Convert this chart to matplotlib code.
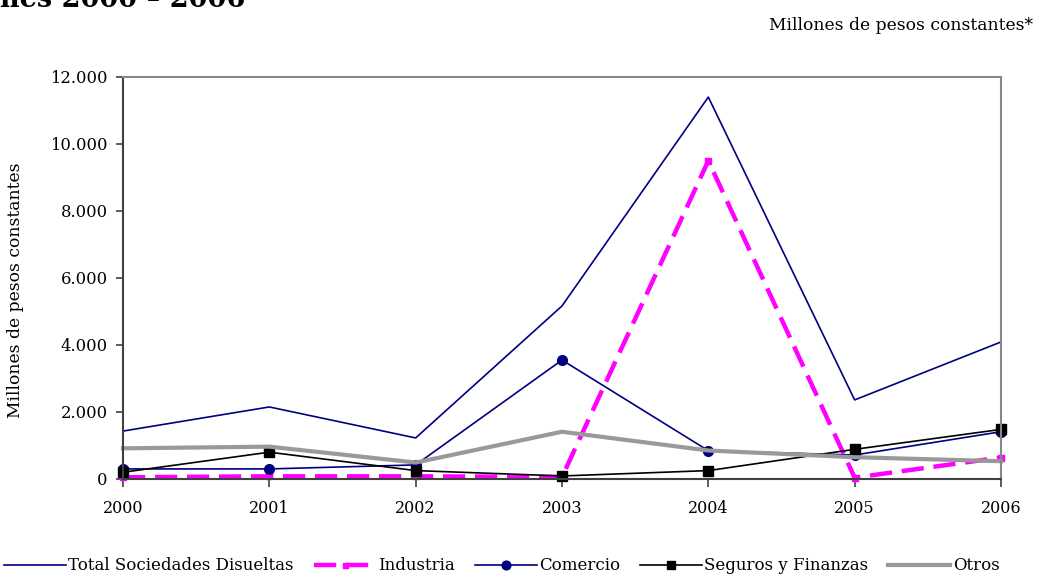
import matplotlib

matplotlib.use("Agg")
import matplotlib.pyplot as plt
from matplotlib.ticker import FuncFormatter

years = ["2000", "2001", "2002", "2003", "2004", "2005", "2006"]
total = [1430, 2150, 1225, 5165, 11400, 2360, 4090]
industria = [50, 80, 80, 60, 9500, 40, 640]
comercio = [300, 300, 420, 3550, 845, 715, 1410]
seguros = [200, 800, 250, 90, 250, 885, 1480]
otros = [915, 965, 490, 1410, 850, 650, 530]

y_ticks = [0, 2000, 4000, 6000, 8000, 10000, 12000]

SERIF = "DejaVu Serif"


def thousands(v, _pos):
    return f"{int(v):,}".replace(",", ".")


def main() -> None:
    fig = plt.figure(figsize=(10.39, 5.81), dpi=100)
    ax = fig.add_axes([0.1184, 0.1756, 0.845, 0.6919])
    x = list(range(len(years)))

    ax.plot(x, total, color="#000080", linewidth=1.2, label="Total Sociedades Disueltas", clip_on=False)
    ax.plot(x, industria, color="#FF00FF", linewidth=3.2, dashes=(5, 2.2), marker="s", markersize=4,
            label="Industria", clip_on=False)
    ax.plot(x, comercio, color="#000080", linewidth=1.2, marker="o", markersize=7,
            label="Comercio", clip_on=False)
    ax.plot(x, seguros, color="black", linewidth=1.2, marker="s", markersize=7,
            label="Seguros y Finanzas", clip_on=False)
    ax.plot(x, otros, color="#999999", linewidth=3.0, label="Otros", clip_on=False)

    ax.set_xlim(0, len(years) - 1)
    ax.set_ylim(0, 12000)
    ax.set_xticks(x)
    ax.set_xticklabels(years, fontfamily=SERIF, fontsize=11.5)
    ax.set_yticks(y_ticks)
    ax.yaxis.set_major_formatter(FuncFormatter(thousands))
    for lbl in ax.get_yticklabels():
        lbl.set_fontfamily(SERIF)
        lbl.set_fontsize(11.8)
    ax.tick_params(axis="both", direction="out", length=5, width=1.2, color="#404040", pad=6)
    ax.tick_params(axis="x", length=6, pad=9)

    for side in ("left", "bottom"):
        ax.spines[side].set_color("#404040")
        ax.spines[side].set_linewidth(1.5)
    for side in ("top", "right"):
        ax.spines[side].set_color("#888888")
        ax.spines[side].set_linewidth(1.5)

    ax.set_ylabel("Millones de pesos constantes", fontfamily=SERIF, fontsize=12.3)
    ax.yaxis.set_label_coords(16 / 1039, 0.5, transform=fig.transFigure)
    ax.yaxis.label.set_verticalalignment("center")

    fig.text(-0.003, 581 - 7, "nes 2000 – 2006", transform=None, fontfamily=SERIF,
             fontsize=19.5, fontweight="bold", va="baseline", ha="left")
    fig.text(1033 / 1039, 1 - 25 / 581, "Millones de pesos constantes*", fontfamily=SERIF,
             fontsize=12.3, ha="right", va="center")

    leg = fig.legend(loc="center", bbox_to_anchor=(0.483, 1 - 566 / 581), ncol=5, frameon=False,
                     prop={"family": SERIF, "size": 12}, handlelength=3.7,
                     handletextpad=0.15, columnspacing=1.2, borderaxespad=0)
    for h in leg.legend_handles:
        h.set_markersize(h.get_markersize() * 0.9)

    fig.savefig("out.png", dpi=100)
    plt.close(fig)


if __name__ == "__main__":
    main()
